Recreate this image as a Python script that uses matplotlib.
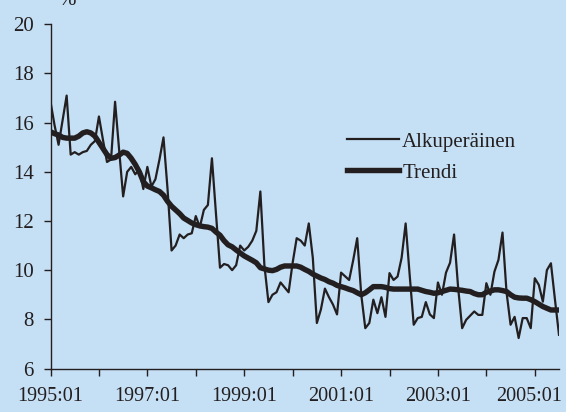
import numpy as np
import matplotlib
matplotlib.use('Agg')
import matplotlib.pyplot as plt
from matplotlib.transforms import ScaledTranslation

# monthly series 1995:01 - 2005:07, percent
ALKUPERAINEN = [16.85, 15.9, 15.1, 16.1, 17.1, 14.7, 14.8, 14.7, 14.8, 14.85, 15.1, 15.25,   # 1995
                16.25, 15.3, 14.4, 14.5, 16.85, 14.9, 13.0, 14.0, 14.2, 13.9, 14.1, 13.3,    # 1996
                14.2, 13.4, 13.7, 14.5, 15.4, 13.3, 10.8, 11.0, 11.45, 11.3, 11.45, 11.5,    # 1997
                12.2, 11.75, 12.45, 12.65, 14.55, 12.3, 10.1, 10.25, 10.2, 10.0, 10.2, 11.0, # 1998
                10.8, 10.95, 11.2, 11.6, 13.2, 10.2, 8.7, 9.0, 9.1, 9.5, 9.3, 9.1,           # 1999
                10.3, 11.3, 11.2, 11.0, 11.9, 10.5, 7.85, 8.4, 9.25, 8.9, 8.6, 8.2,          # 2000
                9.9, 9.75, 9.6, 10.4, 11.3, 9.0, 7.64, 7.85, 8.8, 8.25, 8.9, 8.1,            # 2001
                9.88, 9.6, 9.74, 10.5, 11.9, 9.8, 7.78, 8.05, 8.1, 8.7, 8.2, 8.05,           # 2002
                9.5, 9.0, 9.9, 10.3, 11.45, 9.3, 7.64, 7.98, 8.15, 8.32, 8.18, 8.18,         # 2003
                9.47, 9.0, 9.94, 10.42, 11.53, 9.1, 7.78, 8.1, 7.24, 8.05, 8.05, 7.64,       # 2004
                9.67, 9.4, 8.72, 10.0, 10.28, 8.8, 7.37]                                     # 2005

TRENDI = [15.63, 15.55, 15.5, 15.4, 15.37, 15.37, 15.37, 15.45, 15.58, 15.63, 15.58, 15.45,
          15.2, 14.95, 14.7, 14.55, 14.58, 14.68, 14.8, 14.75, 14.55, 14.3, 14.0, 13.6,
          13.42, 13.35, 13.27, 13.2, 13.05, 12.8, 12.6, 12.45, 12.3, 12.12, 12.02, 11.92,
          11.85, 11.8, 11.77, 11.75, 11.7, 11.55, 11.42, 11.2, 11.03, 10.95, 10.82, 10.7,
          10.58, 10.49, 10.4, 10.3, 10.1, 10.05, 10.0, 9.98, 10.03, 10.12, 10.17, 10.17,
          10.17, 10.17, 10.12, 10.03, 9.95, 9.84, 9.76, 9.68, 9.62, 9.53, 9.47, 9.38,
          9.33, 9.28, 9.22, 9.17, 9.08, 9.0, 9.08, 9.2, 9.33, 9.33, 9.33, 9.3,
          9.25, 9.23, 9.23, 9.23, 9.23, 9.23, 9.23, 9.23, 9.18, 9.13, 9.1, 9.06,
          9.08, 9.13, 9.18, 9.23, 9.22, 9.2, 9.18, 9.15, 9.13, 9.05, 9.0, 9.0,
          9.1, 9.15, 9.2, 9.2, 9.17, 9.13, 9.0, 8.9, 8.87, 8.86, 8.86, 8.8,
          8.72, 8.62, 8.52, 8.45, 8.38, 8.38, 8.38]

YEARS = list(range(1995, 2006))
Y_TICKS = [6, 8, 10, 12, 14, 16, 18, 20]

BG = '#c5dff4'
INK = '#231f20'
FS = 15

plt.rcParams['font.family'] = ['Liberation Serif', 'DejaVu Serif']

fig = plt.figure(figsize=(5.66, 4.12), dpi=100, facecolor=BG)
ax = fig.add_axes([50.5 / 566, 43.5 / 412, 508.5 / 566, 344.2 / 412], facecolor=BG)

months = np.arange(len(ALKUPERAINEN))
ax.plot(months, ALKUPERAINEN, color=INK, lw=1.6, label='Alkuperäinen')
ax.plot(months, TRENDI, color=INK, lw=3.9, label='Trendi')

ax.set_xlim(0, len(ALKUPERAINEN) - 1)
ax.set_ylim(6, 20)

# tick every january, label every second year
ax.set_xticks([12 * i for i in range(len(YEARS))])
ax.set_xticklabels([f'{y}:01' if (y - 1995) % 2 == 0 else '' for y in YEARS])
ax.set_yticks(Y_TICKS)

for s in ['top', 'right']:
    ax.spines[s].set_visible(False)
for s in ['left', 'bottom']:
    ax.spines[s].set_color(INK)
    ax.spines[s].set_linewidth(1.0)
ax.tick_params(colors=INK, labelsize=FS, length=5, width=1.0, direction='out')
ax.tick_params(axis='x', pad=8, labelsize=14.5)
ax.tick_params(axis='y', pad=7)

# last label sits a bit left so it stays inside the picture
last = ax.get_xticklabels()[-1]
last.set_transform(last.get_transform() + ScaledTranslation(-4 / 72, 0, fig.dpi_scale_trans))

fig.text(58 / 566, 1 - 5 / 412, '%', fontsize=FS, color=INK, va='baseline')

ax.legend(loc='upper left', bbox_to_anchor=(347 / 566, 1 - 132 / 412), bbox_transform=fig.transFigure,
          frameon=False, fontsize=FS, handlelength=2.5, handletextpad=0.15, labelspacing=0.55,
          borderpad=0, borderaxespad=0)
for t in ax.get_legend().get_texts():
    t.set_color(INK)

fig.savefig('out.png', dpi=100, facecolor=BG)
